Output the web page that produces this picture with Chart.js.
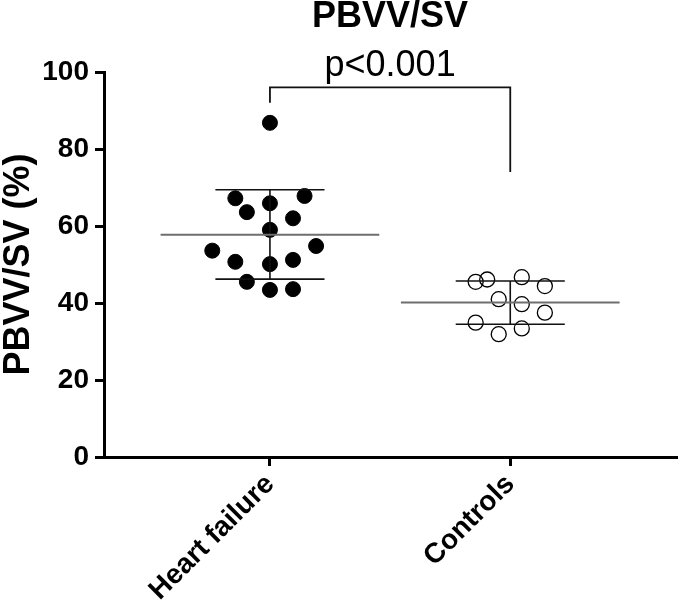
<!DOCTYPE html>
<html>
<head>
<meta charset="utf-8">
<script src="https://cdn.jsdelivr.net/npm/chart.js@4/dist/chart.umd.min.js"></script>
<style>
html,body{margin:0;padding:0;background:#fff;}
#wrap{width:685px;height:610px;position:relative;}
</style>
</head>
<body>
<div id="wrap"><canvas id="c" width="685" height="610"></canvas></div>
<script>
// ---- data ----
const categories = ["Heart failure", "Controls"];
const chartTitle = "PBVV/SV";
const yTitle = "PBVV/SV (%)";
const pText = "p<0.001";
const yTicks = [0, 20, 40, 60, 80, 100];

const hfValues   = [86.8, 67.2, 67.8, 65.9, 63.6, 62.0, 59.0, 53.6, 54.8, 50.7, 50.1, 51.2, 45.5, 43.4, 43.6];
const hfColumns  = [0, -3, 3, 0, -2, 2, 0, -5, 4, -3, 0, 2, -2, 0, 2];
const ctlValues  = [45.5, 46.1, 46.7, 44.4, 41.0, 39.7, 37.5, 34.9, 33.4, 31.9];
const ctlColumns = [-3, -2, 1, 3, -1, 1, 3, -3, 1, -1];

const groupMeans = [57.7, 40.1];
const groupSDUpper = [69.4, 45.7];
const groupSDLower = [46.2, 34.5];

const bracketLeftY = 92;
const bracketTopY = 96;
const bracketRightY = 74;

// ---- build datasets ----
const colStep = 0.048;      // x-units per beeswarm column
const meanHalf = 0.455;     // half width of mean line
const sdHalf = 0.227;       // half width of SD caps

function seg(x1, y1, x2, y2, color, width) {
  return {
    type: 'scatter', showLine: true, data: [{x:x1,y:y1},{x:x2,y:y2}],
    borderColor: color, borderWidth: width, pointRadius: 0, pointHoverRadius: 0,
    fill: false, clip: false, tension: 0
  };
}

const datasets = [];
groupMeans.forEach((m, i) => {
  const cx = i + 1;
  datasets.push(seg(cx - meanHalf, m, cx + meanHalf, m, '#6e6e6e', 2));
  datasets.push(seg(cx - sdHalf, groupSDUpper[i], cx + sdHalf, groupSDUpper[i], '#111', 1.6));
  datasets.push(seg(cx - sdHalf, groupSDLower[i], cx + sdHalf, groupSDLower[i], '#111', 1.6));
  datasets.push(seg(cx, groupSDLower[i], cx, groupSDUpper[i], '#111', 1.6));
});
// significance bracket
datasets.push({
  type: 'scatter', showLine: true,
  data: [{x:1,y:bracketLeftY},{x:1,y:bracketTopY},{x:2,y:bracketTopY},{x:2,y:bracketRightY}],
  borderColor: '#111', borderWidth: 1.8, pointRadius: 0, fill: false, clip: false, tension: 0
});
datasets.push({
  type: 'scatter',
  data: hfValues.map((v, i) => ({x: 1 + hfColumns[i] * colStep, y: v})),
  pointRadius: 7.5, pointBackgroundColor: '#000', pointBorderColor: '#000', pointBorderWidth: 1,
  clip: false
});
datasets.push({
  type: 'scatter',
  data: ctlValues.map((v, i) => ({x: 2 + ctlColumns[i] * colStep, y: v})),
  pointRadius: 7.5, pointBackgroundColor: 'rgba(255,255,255,0)', pointBorderColor: '#000', pointBorderWidth: 1.3,
  clip: false
});

const textPlugin = {
  id: 'texts',
  afterDraw(chart) {
    const ctx = chart.ctx;
    const ca = chart.chartArea;
    const xs = chart.scales.x, ys = chart.scales.y;
    ctx.save();
    ctx.fillStyle = '#000';
    // title
    ctx.font = 'bold 36px "Liberation Sans", Arial, sans-serif';
    ctx.textAlign = 'center';
    ctx.textBaseline = 'alphabetic';
    ctx.fillText(chartTitle, (ca.left + ca.right) / 2, 27);
    // p value
    ctx.font = '36px "Liberation Sans", Arial, sans-serif';
    ctx.fillText(pText, xs.getPixelForValue(1.5), ys.getPixelForValue(99));
    // y title
    ctx.translate(19, (ca.top + ca.bottom) / 2);
    ctx.rotate(-Math.PI / 2);
    ctx.font = 'bold 36px "Liberation Sans", Arial, sans-serif';
    ctx.textBaseline = 'middle';
    ctx.fillText(yTitle, 0, 0);
    ctx.restore();
  }
};

new Chart(document.getElementById('c'), {
  type: 'scatter',
  data: { datasets },
  options: {
    responsive: false,
    animation: false,
    events: [],
    layout: { padding: { top: 72, left: 0, right: 0, bottom: 0 } },
    plugins: { legend: { display: false }, tooltip: { enabled: false }, title: { display: false } },
    scales: {
      x: {
        type: 'linear', min: 0.3095, max: 2.6905,
        afterBuildTicks: (s) => { s.ticks = categories.map((c, i) => ({ value: i + 1 })); },
        afterFit: (s) => { s.height = 153; },
        ticks: {
          callback: (v) => categories[v - 1] || '',
          autoSkip: false, maxRotation: 45, minRotation: 45,
          color: '#000', padding: 2,
          font: { family: '"Liberation Sans", Arial, sans-serif', size: 28, weight: 'bold' }
        },
        grid: { display: true, drawOnChartArea: false, drawTicks: true, tickLength: 9, color: '#000', lineWidth: 3 },
        border: { display: true, color: '#000', width: 3 }
      },
      y: {
        type: 'linear', min: 0, max: 100,
        afterBuildTicks: (s) => { s.ticks = yTicks.map(v => ({ value: v })); },
        afterFit: (s) => { s.width = 104; },
        ticks: {
          color: '#000', padding: 6,
          font: { family: '"Liberation Sans", Arial, sans-serif', size: 28, weight: 'bold' }
        },
        grid: { display: true, drawOnChartArea: false, drawTicks: true, tickLength: 9, color: '#000', lineWidth: 3 },
        border: { display: true, color: '#000', width: 3 }
      }
    }
  },
  plugins: [textPlugin]
});
</script>
</body>
</html>
